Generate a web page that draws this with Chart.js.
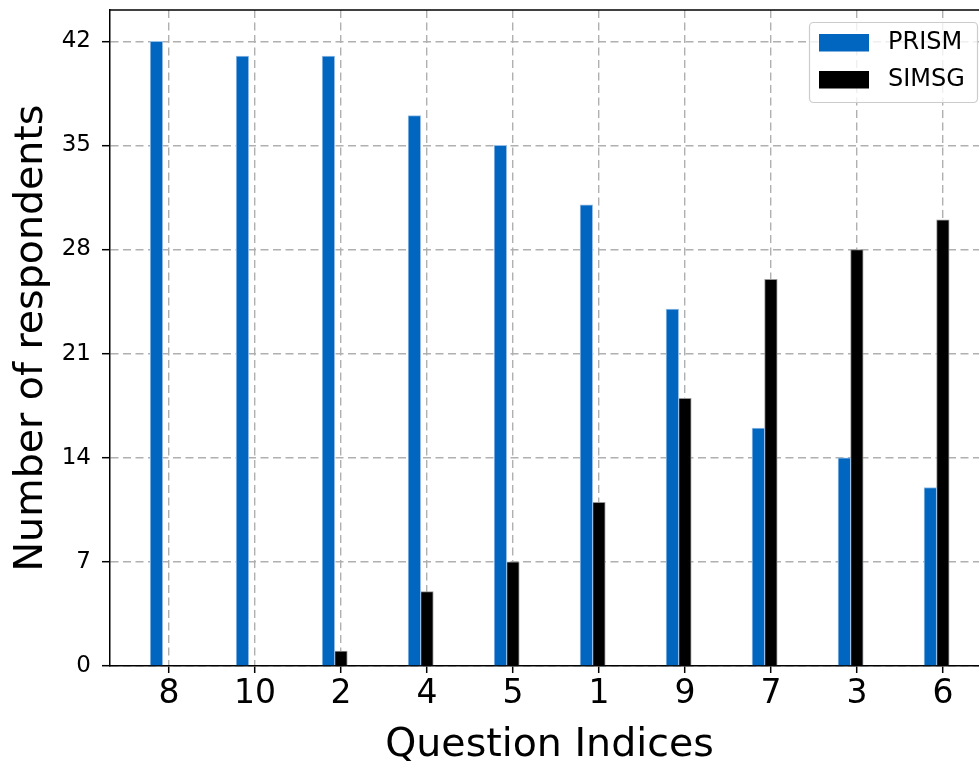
<!DOCTYPE html>
<html>
<head>
<meta charset="utf-8">
<script src="https://cdn.jsdelivr.net/npm/chart.js@4/dist/chart.umd.min.js"></script>
<style>
  html, body { margin: 0; padding: 0; background: #fff; }
  #wrap { width: 979px; height: 762px; }
</style>
</head>
<body>
<div id="wrap"><canvas id="myChart"></canvas></div>
<script>
// chart values
const questions = ['8', '10', '2', '4', '5', '1', '9', '7', '3', '6'];
const prism = [42, 41, 41, 37, 35, 31, 24, 16, 14, 12];
const simsg = [0, 0, 1, 5, 7, 11, 18, 26, 28, 30];
const yTicks = [0, 7, 14, 21, 28, 35, 42];

const seriesNames = ['PRISM', 'SIMSG'];
const xTitle = 'Question Indices';
const blue = 'rgb(0, 102, 191)';
const black = 'rgb(0, 0, 0)';
const font = 'DejaVu Sans';
const barW = 0.146;

function toPoints(values, shift) {
  return values.map(function (v, i) { return { x: i + shift, y: v }; });
}

// top spine, x title (the original axes run past the cropped right edge,
// so its title sits a bit right of the visible centre) and legend box
const extras = {
  id: 'extras',
  afterDraw: function (chart) {
    const ctx = chart.ctx;
    const area = chart.chartArea;
    ctx.save();
    ctx.strokeStyle = '#000';
    ctx.lineWidth = 1.5;
    ctx.beginPath();
    ctx.moveTo(area.left, area.top);
    ctx.lineTo(area.right, area.top);
    ctx.stroke();

    ctx.fillStyle = '#000';
    ctx.font = '39.5px "' + font + '"';
    ctx.textAlign = 'center';
    ctx.textBaseline = 'middle';
    ctx.fillText(xTitle, (area.left + area.right) / 2 + 5, 746);

    ctx.fillStyle = 'rgba(255,255,255,0.8)';
    ctx.strokeStyle = '#cccccc';
    ctx.lineWidth = 1.2;
    ctx.beginPath();
    ctx.roundRect(809.5, 22.5, 168, 80, 4);
    ctx.fill();
    ctx.stroke();

    ctx.font = '24px "' + font + '"';
    ctx.textAlign = 'left';
    chart.data.datasets.forEach(function (ds, k) {
      const y = 34 + k * 37;
      ctx.fillStyle = ds.backgroundColor;
      ctx.fillRect(819, y, 50, 17.5);
      ctx.fillStyle = '#000';
      ctx.fillText(ds.label, 888, y + 9);
    });
    ctx.restore();
  }
};

new Chart(document.getElementById('myChart'), {
  type: 'bar',
  data: {
    datasets: [{
      label: seriesNames[0],
      data: toPoints(prism, -barW),
      backgroundColor: blue,
      borderColor: 'rgba(150, 190, 230, 1)',
      borderWidth: 1,
      barThickness: 12.6
    }, {
      label: seriesNames[1],
      data: toPoints(simsg, 0),
      backgroundColor: black,
      borderColor: 'rgba(150, 150, 150, 1)',
      borderWidth: 1,
      barThickness: 12.6
    }]
  },
  plugins: [extras],
  options: {
    responsive: true,
    maintainAspectRatio: false,
    animation: false,
    grouped: false,
    layout: { padding: { top: 10, right: 0, left: 0, bottom: 0 } },
    plugins: {
      legend: { display: false },
      tooltip: { enabled: false }
    },
    scales: {
      x: {
        type: 'linear',
        z: 1,
        offset: false,
        min: -0.686,
        max: 9.42,
        afterFit: function (scale) {
          scale.height = 96;
          scale.paddingLeft = 0;
          scale.paddingRight = 0;
        },
        afterBuildTicks: function (scale) {
          scale.ticks = questions.map(function (q, i) { return { value: i }; });
        },
        ticks: {
          color: '#000',
          font: { family: font, size: 33 },
          padding: 2,
          maxRotation: 0,
          autoSkip: false,
          callback: function (v) { return questions[v]; }
        },
        grid: {
          offset: false,
          color: '#b0b0b0',
          lineWidth: 1.4,
          tickColor: '#000',
          tickLength: 7,
          tickWidth: 1.5
        },
        border: { display: true, color: '#000', width: 1.5, dash: [8, 4.5] },
        title: { display: false }
      },
      y: {
        z: 1,
        min: 0,
        max: 44.1,
        afterFit: function (scale) {
          scale.width = 110;
          scale.paddingTop = 0;
          scale.paddingBottom = 0;
        },
        afterBuildTicks: function (scale) {
          scale.ticks = yTicks.map(function (t) { return { value: t }; });
        },
        ticks: {
          color: '#000',
          font: { family: font, size: 23 },
          padding: 11
        },
        grid: {
          color: '#b0b0b0',
          lineWidth: 1.4,
          tickColor: '#000',
          tickLength: 8,
          tickWidth: 1.5
        },
        border: { display: true, color: '#000', width: 1.5, dash: [8, 4.5] },
        title: {
          display: true,
          text: 'Number of respondents',
          color: '#000',
          font: { family: font, size: 39.5, lineHeight: 1.2 },
          padding: { top: 8, bottom: 0 }
        }
      }
    }
  }
});
</script>
</body>
</html>
